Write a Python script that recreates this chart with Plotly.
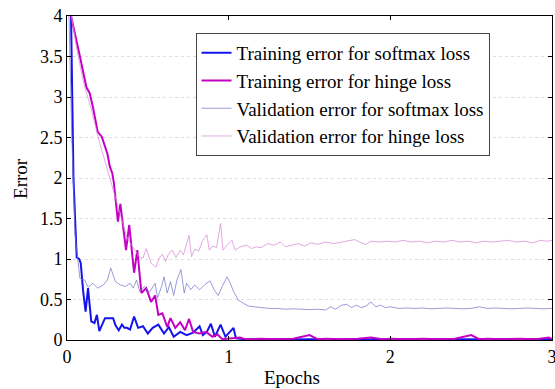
import plotly.graph_objects as go

# ---- data ----
train_soft_x = [0.025, 0.04, 0.05, 0.06, 0.075, 0.085, 0.1, 0.115, 0.13, 0.15, 0.17, 0.185, 0.2,
                0.22, 0.235, 0.26, 0.285, 0.3, 0.32, 0.34, 0.355, 0.37, 0.39, 0.415, 0.44, 0.47,
                0.5, 0.53, 0.565, 0.6, 0.63, 0.66, 0.7, 0.74, 0.78, 0.82, 0.84, 0.865, 0.89, 0.915,
                0.95, 0.98, 1.0, 1.03, 1.045, 1.1, 1.2, 1.3, 1.4, 1.5, 1.6, 1.7, 1.8, 1.9, 2.0,
                2.1, 2.2, 2.3, 2.4, 2.5, 2.6, 2.7, 2.8, 2.9, 3.0]
train_soft_y = [4.0, 2.0, 1.5, 1.02, 1.0, 0.95, 0.6, 0.35, 0.64, 0.23, 0.21, 0.31, 0.11,
                0.2, 0.27, 0.27, 0.27, 0.18, 0.12, 0.19, 0.15, 0.15, 0.13, 0.29, 0.15, 0.17,
                0.08, 0.15, 0.19, 0.08, 0.16, 0.04, 0.1, 0.06, 0.09, 0.17, 0.06, 0.1, 0.2, 0.04,
                0.19, 0.04, 0.08, 0.15, 0.02, 0.01, 0.005, 0.01, 0.005, 0.01, 0.005, 0.005, 0.01, 0.005, 0.01,
                0.005, 0.01, 0.005, 0.005, 0.01, 0.005, 0.01, 0.005, 0.005, 0.01]

train_hinge_x = [0.025, 0.05, 0.08, 0.12, 0.14, 0.16, 0.19, 0.215, 0.25, 0.265, 0.28, 0.29, 0.3,
                 0.315, 0.33, 0.365, 0.385, 0.415, 0.435, 0.46, 0.49, 0.52, 0.545, 0.565, 0.59,
                 0.62, 0.64, 0.67, 0.7, 0.73, 0.755, 0.78, 0.82, 0.86, 0.9, 0.93, 0.96, 1.0,
                 1.07, 1.1, 1.2, 1.3, 1.4, 1.5, 1.55, 1.6, 1.7, 1.8, 1.88, 1.95, 2.0, 2.1, 2.2,
                 2.3, 2.4, 2.5, 2.55, 2.6, 2.7, 2.8, 2.9, 2.98, 3.0]
train_hinge_y = [4.0, 3.78, 3.5, 3.12, 3.05, 2.88, 2.57, 2.51, 2.3, 2.14, 2.06, 1.94, 1.73,
                 1.46, 1.68, 1.11, 1.42, 0.83, 1.11, 0.58, 0.64, 0.47, 0.55, 0.31, 0.33,
                 0.16, 0.27, 0.15, 0.22, 0.12, 0.26, 0.1, 0.08, 0.1, 0.04, 0.07, 0.01, 0.02,
                 0.03, 0.01, 0.015, 0.01, 0.015, 0.06, 0.01, 0.015, 0.01, 0.015, 0.03, 0.01, 0.015, 0.01, 0.015,
                 0.01, 0.015, 0.06, 0.01, 0.015, 0.01, 0.015, 0.01, 0.03, 0.01]

val_soft_x = [0.01, 0.03, 0.05, 0.07, 0.08, 0.11, 0.13, 0.16, 0.19, 0.225, 0.25, 0.27, 0.3,
              0.33, 0.36, 0.39, 0.41, 0.43, 0.45, 0.48, 0.51, 0.545, 0.56, 0.585, 0.6, 0.62,
              0.64, 0.66, 0.68, 0.705, 0.725, 0.74, 0.765, 0.79, 0.82, 0.85, 0.885, 0.91, 0.935,
              0.96, 0.99, 1.01, 1.03, 1.06, 1.09, 1.12, 1.16, 1.2, 1.25, 1.3, 1.35, 1.4, 1.45,
              1.5, 1.55, 1.6, 1.63, 1.66, 1.7, 1.73, 1.76, 1.79, 1.82, 1.85, 1.88, 1.91, 1.94,
              1.97, 2.0, 2.05, 2.1, 2.15, 2.2, 2.25, 2.3, 2.35, 2.4, 2.45, 2.5, 2.55, 2.6, 2.65,
              2.7, 2.75, 2.8, 2.85, 2.9, 2.95, 3.0]
val_soft_y = [4.2, 2.5, 1.3, 0.92, 0.76, 0.74, 0.65, 0.7, 0.64, 0.68, 0.74, 0.89, 0.72,
              0.68, 0.66, 0.7, 0.64, 0.74, 0.6, 0.66, 0.59, 0.7, 0.52, 0.66, 0.78, 0.58,
              0.72, 0.55, 0.74, 0.87, 0.58, 0.7, 0.62, 0.68, 0.62, 0.68, 0.73, 0.62, 0.55,
              0.66, 0.78, 0.7, 0.6, 0.49, 0.45, 0.42, 0.41, 0.4, 0.39, 0.39, 0.38, 0.385, 0.38,
              0.375, 0.38, 0.37, 0.41, 0.38, 0.43, 0.44, 0.4, 0.43, 0.4, 0.42, 0.47, 0.41, 0.43,
              0.4, 0.41, 0.39, 0.395, 0.39, 0.395, 0.385, 0.39, 0.395, 0.39, 0.385, 0.39, 0.41, 0.39, 0.395,
              0.39, 0.385, 0.39, 0.395, 0.39, 0.385, 0.39]

val_hinge_x = [0.02, 0.06, 0.1, 0.15, 0.2, 0.25, 0.3, 0.34, 0.37, 0.4, 0.42, 0.45, 0.47, 0.49,
               0.52, 0.55, 0.57, 0.59, 0.61, 0.625, 0.65, 0.675, 0.7, 0.72, 0.74, 0.755, 0.77,
               0.79, 0.815, 0.84, 0.865, 0.88, 0.9, 0.925, 0.95, 0.965, 0.99, 1.02, 1.04, 1.07,
               1.11, 1.14, 1.17, 1.2, 1.24, 1.28, 1.32, 1.35, 1.39, 1.43, 1.47, 1.51, 1.55, 1.6,
               1.65, 1.7, 1.75, 1.78, 1.82, 1.85, 1.88, 1.93, 1.98, 2.03, 2.08, 2.13, 2.18, 2.23,
               2.28, 2.33, 2.38, 2.43, 2.48, 2.53, 2.58, 2.63, 2.68, 2.73, 2.78, 2.83, 2.88, 2.93,
               2.97, 3.0]
val_hinge_y = [4.1, 3.6, 3.2, 2.85, 2.45, 2.1, 1.75, 1.48, 1.27, 1.17, 1.11, 1.02, 1.01, 1.13,
               0.95, 0.9, 1.01, 1.06, 0.97, 1.05, 1.11, 1.02, 1.11, 1.05, 1.19, 1.29, 1.03,
               1.12, 1.1, 1.23, 1.3, 1.11, 1.16, 1.14, 1.44, 1.11, 1.17, 1.23, 1.11, 1.15,
               1.17, 1.13, 1.15, 1.14, 1.19, 1.17, 1.21, 1.15, 1.17, 1.19, 1.16, 1.2, 1.18, 1.21,
               1.19, 1.21, 1.23, 1.24, 1.2, 1.18, 1.22, 1.21, 1.22, 1.21, 1.23, 1.21, 1.22, 1.2,
               1.22, 1.21, 1.23, 1.21, 1.22, 1.2, 1.22, 1.21, 1.22, 1.23, 1.21, 1.22, 1.2, 1.23,
               1.22, 1.23]

x_ticks = [0, 1, 2, 3]
y_ticks = [0, 0.5, 1, 1.5, 2, 2.5, 3, 3.5, 4]
y_tick_text = ["0", "0.5", "1", "1.5", "2", "2.5", "3", "3.5", "4"]

FONT = "Liberation Serif, Times New Roman, serif"

fig = go.Figure()
fig.add_trace(go.Scatter(x=train_soft_x, y=train_soft_y, mode="lines",
                         name="Training error for softmax loss",
                         line=dict(color="rgb(20,20,235)", width=2)))
fig.add_trace(go.Scatter(x=train_hinge_x, y=train_hinge_y, mode="lines",
                         name="Training error for hinge loss",
                         line=dict(color="rgb(195,0,195)", width=2)))
fig.add_trace(go.Scatter(x=val_soft_x, y=val_soft_y, mode="lines",
                         name="Validation error for softmax loss",
                         line=dict(color="rgba(120,120,205,0.75)", width=1)))
fig.add_trace(go.Scatter(x=val_hinge_x, y=val_hinge_y, mode="lines",
                         name="Validation error for hinge loss",
                         line=dict(color="rgba(215,140,215,0.75)", width=1)))

fig.update_layout(
    width=555, height=389,
    margin=dict(l=67, r=3, t=16, b=49, autoexpand=False),
    paper_bgcolor="white", plot_bgcolor="white",
    font=dict(family=FONT, size=18, color="black"),
    showlegend=True,
    legend=dict(x=0.265, y=0.9475, xanchor="left", yanchor="top",
                bgcolor="white", bordercolor="#444", borderwidth=1,
                font=dict(family=FONT, size=19), tracegroupgap=0),
    xaxis=dict(range=[0, 3], tickvals=x_ticks, ticktext=[str(v) for v in x_ticks],
               showgrid=False, zeroline=False, showline=True, linecolor="black",
               linewidth=1, mirror="ticks", ticks="inside", ticklen=4, tickcolor="black",
               ticklabeloverflow="allow", automargin=False,
               tickfont=dict(family=FONT, size=18)),
    yaxis=dict(range=[0, 4], tickvals=y_ticks, ticktext=y_tick_text,
               showgrid=True, gridcolor="#dedede", griddash="dot", gridwidth=1,
               zeroline=False, showline=True, linecolor="black", linewidth=1,
               mirror="ticks", ticks="inside", ticklen=4, tickcolor="black",
               automargin=False,
               tickfont=dict(family=FONT, size=18)),
    annotations=[
        dict(text="Epochs", x=0.464, y=-0.117, xref="paper", yref="paper",
             xanchor="center", yanchor="middle", showarrow=False,
             font=dict(family=FONT, size=19)),
        dict(text="Error", x=-0.097, y=0.5, xref="paper", yref="paper",
             xanchor="center", yanchor="middle", textangle=-90, showarrow=False,
             font=dict(family=FONT, size=19)),
    ],
)

fig.write_html("out.html")
